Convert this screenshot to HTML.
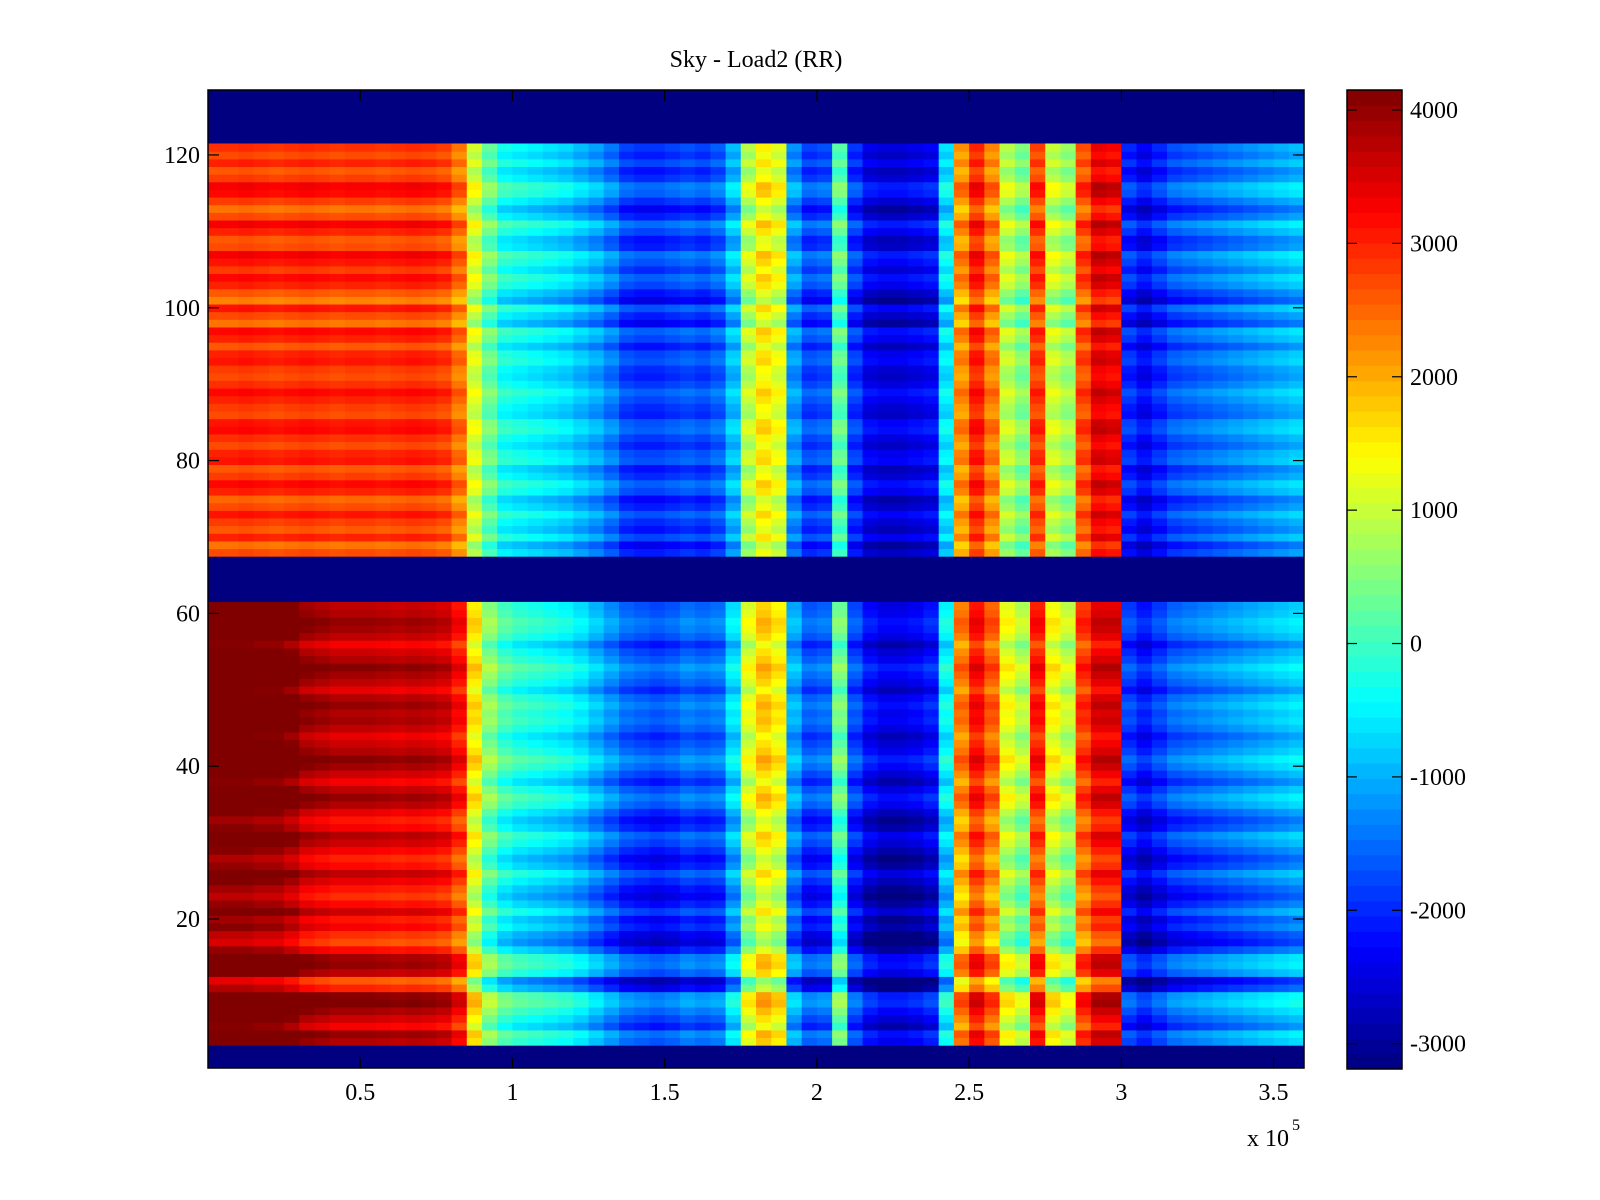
<!DOCTYPE html>
<html><head><meta charset="utf-8"><style>
html,body{margin:0;padding:0;background:#fff;}
svg{display:block;font-family:"Liberation Serif",serif;}
</style></head><body>
<svg id="fig" width="1600" height="1200" viewBox="0 0 1600 1200">
<rect width="1600" height="1200" fill="#fff"/>
<text x="756" y="67" font-size="24" text-anchor="middle">Sky - Load2 (RR)</text>
<g id="heat"></g>
<g id="axes"></g>
<g id="cbar"></g>
</svg>
<script>
// ---- data ----
const xTicks = [0.5, 1, 1.5, 2, 2.5, 3, 3.5];
const xTickLabels = ["0.5", "1", "1.5", "2", "2.5", "3", "3.5"];
const yTicks = [20, 40, 60, 80, 100, 120];
const cTicks = [-3000, -2000, -1000, 0, 1000, 2000, 3000, 4000];
const colWidth = 0.05; // x-units (1e5) per column
const profileTop = [2900,2900,2950,2900,2850,2900,2950,2900,2850,2900,2900,2850,2900,2950,2900,2800,2400,1100,300,-300,-400,-500,-600,-700,-900,-1100,-1400,-1800,-1900,-1900,-1800,-1700,-1800,-1600,-900,900,1500,1200,-1200,-1800,-1700,200,-1900,-2400,-2500,-2500,-2400,-2300,-600,2200,3000,2300,900,500,2800,1000,700,2700,3400,3300,-2000,-2300,-2000,-1700,-1600,-1500,-1400,-1300,-1200,-1100,-1000,-900];
const profileBottom = [4300,4300,4300,4200,4200,4000,3700,3600,3500,3500,3500,3450,3400,3450,3400,3300,2900,1300,300,-200,-400,-500,-600,-700,-900,-1200,-1500,-1800,-1900,-2000,-1900,-1700,-1800,-1700,-900,900,1500,1200,-1300,-1900,-1800,100,-2000,-2500,-2700,-2700,-2600,-2400,-700,2100,2900,2300,1000,600,2800,1100,700,2600,3200,3200,-2100,-2400,-2100,-1800,-1700,-1600,-1500,-1400,-1300,-1200,-1100,-1000];
// row offsets, rows 1..128 (null = blank/masked row)
const rowOffsetBottom = [300,500,-200,100,400,700,600,-500,-900,200,500,400,-300,-800,-600,-200,-400,100,-300,-600,-400,-100,200,-300,-500,-200,100,300,-200,-400,-100,300,500,200,-200,100,400,600,300,100,-100,200,400,300,500,300,-100,200,400,600,300,100,-200,200,400,500,300,200];
const rowOffsetTop = [-200,-500,100,-300,-100,200,-200,-400,100,300,-100,-300,200,100,-200,0,300,200,-200,-100,100,300,0,-200,-100,200,100,-300,100,300,-500,-200,200,-600,-300,100,300,-100,200,400,-200,-300,100,400,-200,-500,-100,300,400,-100,-300,100,-200,0];
const cMin = -3190, cMax = 4150;

// ---- layout ----
const L = 208, R = 1304, T = 90, B = 1068;
const xMin = 0, xMax = 3.6, yMin = 0.5, yMax = 128.5;
const xs = v => L + (v - xMin) / (xMax - xMin) * (R - L);
const ys = v => B - (v - yMin) / (yMax - yMin) * (B - T);
const CL = 1347, CR = 1402, CT = 90, CB = 1069;
const cs = v => CB - (v - cMin) / (cMax - cMin) * (CB - CT);
const NS = "http://www.w3.org/2000/svg";
function jet(v) {
  let t = (v - cMin) / (cMax - cMin); t = Math.max(0, Math.min(1, t));
  const c = x => Math.round(255 * Math.max(0, Math.min(1, x)));
  return `rgb(${c(1.5 - Math.abs(4*t - 3))},${c(1.5 - Math.abs(4*t - 2))},${c(1.5 - Math.abs(4*t - 1))})`;
}
function mk(tag, attrs, parent) {
  const e = document.createElementNS(NS, tag);
  for (const k in attrs) e.setAttribute(k, attrs[k]);
  parent.appendChild(e); return e;
}
const heat = document.getElementById('heat');
const bg = mk('rect', {x: L, y: T, width: R - L, height: B - T, fill: jet(cMin)}, heat);


function drawBlock(startRow, offsets, profile) {
  offsets.forEach((off, i) => {
    const row = startRow + i;
    const y0 = ys(row + 0.5), y1 = ys(row - 0.5);
    profile.forEach((p, j) => {
      const x0 = xs(j * colWidth), x1 = xs((j + 1) * colWidth);
      const r = mk('rect', {x: x0.toFixed(2), y: y0.toFixed(2), width: (x1 - x0 + 0.6).toFixed(2), height: (y1 - y0 + 0.6).toFixed(2), fill: jet(p + off)}, heat);
      
      
    });
  });
}
drawBlock(4, rowOffsetBottom, profileBottom);
drawBlock(68, rowOffsetTop, profileTop);

// ---- axes ----
const ax = document.getElementById('axes');
const frame = mk('rect', {x: L, y: T, width: R - L, height: B - T, fill: 'none', stroke: '#000', 'stroke-width': 1.5}, ax);


xTicks.forEach((v, i) => {
  const x = xs(v);
  mk('line', {x1: x, y1: B, x2: x, y2: B - 11, stroke: '#000', 'stroke-width': 1.2}, ax);
  mk('line', {x1: x, y1: T, x2: x, y2: T + 11, stroke: '#000', 'stroke-width': 1.2}, ax);
  const t = mk('text', {x: x, y: B + 32, 'font-size': 24, 'text-anchor': 'middle'}, ax);
  t.textContent = xTickLabels[i];
  
  
});
yTicks.forEach(v => {
  const y = ys(v);
  mk('line', {x1: L, y1: y, x2: L + 11, y2: y, stroke: '#000', 'stroke-width': 1.2}, ax);
  mk('line', {x1: R, y1: y, x2: R - 11, y2: y, stroke: '#000', 'stroke-width': 1.2}, ax);
  const t = mk('text', {x: L - 8, y: y + 8, 'font-size': 24, 'text-anchor': 'end'}, ax);
  t.textContent = String(v);
  
  
});
const ex = mk('text', {x: 1247, y: 1146, 'font-size': 24}, ax);
ex.textContent = 'x 10';


const ex2 = mk('text', {x: 1292, y: 1130, 'font-size': 16}, ax);
ex2.textContent = '5';



// ---- colorbar ----
const cb = document.getElementById('cbar');
const N = 64;
for (let k = 0; k < N; k++) {
  const v0 = cMin + (cMax - cMin) * k / N, v1 = cMin + (cMax - cMin) * (k + 1) / N;
  const r = mk('rect', {x: CL, y: cs(v1), width: CR - CL, height: cs(v0) - cs(v1) + 0.5, fill: jet((v0 + v1) / 2)}, cb);
  
  
}
const cf = mk('rect', {x: CL, y: CT, width: CR - CL, height: CB - CT, fill: 'none', stroke: '#000', 'stroke-width': 1.5}, cb);


cTicks.forEach(v => {
  const y = cs(v);
  mk('line', {x1: CL, y1: y, x2: CL + 10, y2: y, stroke: '#000', 'stroke-width': 1.2}, cb);
  mk('line', {x1: CR, y1: y, x2: CR - 10, y2: y, stroke: '#000', 'stroke-width': 1.2}, cb);
  const t = mk('text', {x: CR + 8, y: y + 8, 'font-size': 24}, cb);
  t.textContent = String(v);
  
  
});
</script>
</body></html>
